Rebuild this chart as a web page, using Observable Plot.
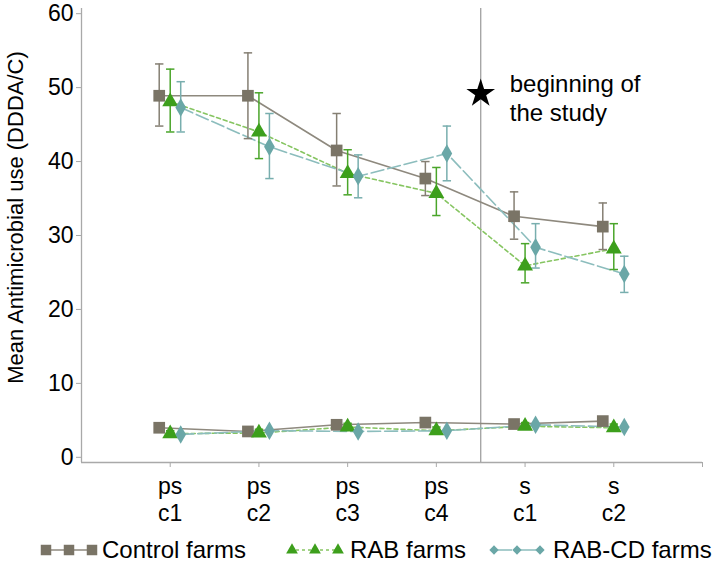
<!DOCTYPE html>
<html><head><meta charset="utf-8">
<script src="https://cdn.jsdelivr.net/npm/d3@7"></script>
<script src="https://cdn.jsdelivr.net/npm/@observablehq/plot@0.6"></script>
<style>
body{margin:0;background:#fff;font-family:"Liberation Sans",Arial,sans-serif;}
#wrap{position:relative;width:716px;height:565px;}
#legend{position:absolute;top:535px;left:0;width:716px;height:30px;font-size:24px;color:#000;}
#legend .it{position:absolute;top:0;height:30px;line-height:30px;white-space:nowrap;}
#legend svg{position:absolute;top:5px;}
</style></head><body><div id="wrap"><div id="chart"></div><div id="legend"></div></div>
<script>
const categories = ["ps\nc1","ps\nc2","ps\nc3","ps\nc4","s\nc1","s\nc2"];
const seriesNames = ["Control farms","RAB farms","RAB-CD farms"];
// upper group (mean with error bars)
const controlUpper     = [48.9, 48.9, 41.5, 37.7, 32.6, 31.2];
const controlUpperLow  = [44.8, 43.1, 36.7, 35.4, 29.5, 28.1];
const controlUpperHigh = [53.2, 54.7, 46.5, 40.0, 35.9, 34.4];
const rabUpper         = [48.1, 44.0, 38.4, 35.7, 25.9, 28.2];
const rabUpperLow      = [44.0, 40.4, 35.5, 32.7, 23.6, 25.4];
const rabUpperHigh     = [52.5, 49.3, 41.6, 39.2, 28.9, 31.6];
const cdUpper          = [47.3, 42.0, 38.0, 41.1, 28.4, 24.8];
const cdUpperLow       = [44.0, 37.7, 35.1, 37.4, 25.6, 22.3];
const cdUpperHigh      = [50.8, 46.5, 40.9, 44.8, 31.6, 27.2];
// lower group
const controlLower     = [4.0, 3.5, 4.4, 4.7, 4.5, 4.9];
const rabLower         = [3.2, 3.3, 4.1, 3.6, 4.2, 4.0];
const rabLowerLow      = [2.8, 2.9, 3.7, 3.2, 3.8, 3.6];
const rabLowerHigh     = [3.6, 3.8, 4.6, 4.1, 4.7, 4.5];
const cdLower          = [3.1, 3.6, 3.5, 3.6, 4.4, 4.1];
// annotation
const studyStart = [4.5];
const starValue = [49.2];
const annotationText = ["beginning of\nthe study"];
const yTicks = [0, 10, 20, 30, 40, 50, 60];
const yTitle = "Mean Antimicrobial use (DDDA/C)";

const FONT = '"Liberation Sans", Arial, sans-serif';
const styles = [
  {name: seriesNames[0], marker: "#7a7466", line: "#8e897e", err: "#857f73", dash: null, symbol: "square", r: 6.6, dx: -11},
  {name: seriesNames[1], marker: "#3d9f1c", line: "#86c561", err: "#4aa52a", dash: "4,3", symbol: "triangle", r: 5.9, dx: 0},
  {name: seriesNames[2], marker: "#6aa7a7", line: "#8cbdbd", err: "#78aeae", dash: "13,4", symbol: "diamond", r: 5.6, dx: 10.5}
];
const rows = (vals, lo, hi) => vals.map((v, i) => ({x: i + 1, y: v, lo: lo ? lo[i] : null, hi: hi ? hi[i] : null}));
const groups = [
  [rows(controlUpper, controlUpperLow, controlUpperHigh), rows(controlLower)],
  [rows(rabUpper, rabUpperLow, rabUpperHigh), rows(rabLower, rabLowerLow, rabLowerHigh)],
  [rows(cdUpper, cdUpperLow, cdUpperHigh), rows(cdLower)]
];
const capSymbol = {draw(ctx, size) { const r = Math.sqrt(size / Math.PI); ctx.moveTo(-r, 0); ctx.lineTo(r, 0); }};
const yDomain = [-0.7, 60.7];
const xDomain = [0, categories.length + 1];

const marks = [
  Plot.ruleX([xDomain[0]], {stroke: "#a9a9a9", strokeWidth: 1.3}),
  Plot.ruleY([yDomain[0]], {stroke: "#a9a9a9", strokeWidth: 1.3}),
  Plot.ruleX(studyStart, {stroke: "#a0a0a0", strokeWidth: 1.3}),
  Plot.axisY({ticks: yTicks, tickSize: 5, tickPadding: 3, stroke: "#a9a9a9", fontSize: 23, label: null}),
  Plot.axisX({ticks: d3.range(1, categories.length + 2), tickFormat: d => categories[d - 1] || "", tickSize: 5, tickPadding: 8, stroke: "#a9a9a9", fontSize: 23, lineHeight: 1.15, label: null}),
  Plot.text([yTitle], {frameAnchor: "left", rotate: -90, dx: -66, dy: -18, fontSize: 22, fill: "#000", textAnchor: "middle", lineAnchor: "middle"})
];
styles.forEach((s, k) => {
  for (const g of groups[k]) {
    marks.push(Plot.line(g, {x: "x", y: "y", dx: s.dx, stroke: s.line, strokeWidth: 1.6, strokeDasharray: s.dash || undefined}));
  }
});
styles.forEach((s, k) => {
  for (const g of groups[k]) {
    const e = g.filter(d => d.lo != null);
    if (!e.length) continue;
    marks.push(Plot.ruleX(e, {x: "x", y1: "lo", y2: "hi", dx: s.dx, stroke: s.err, strokeWidth: 1.5}));
    marks.push(Plot.dot(e, {x: "x", y: "lo", dx: s.dx, symbol: capSymbol, r: 4.2, stroke: s.err, strokeWidth: 1.5, fill: "none"}));
    marks.push(Plot.dot(e, {x: "x", y: "hi", dx: s.dx, symbol: capSymbol, r: 4.2, stroke: s.err, strokeWidth: 1.5, fill: "none"}));
  }
});
styles.forEach((s, k) => {
  for (const g of groups[k]) {
    marks.push(Plot.dot(g, {x: "x", y: "y", dx: s.dx, symbol: s.symbol, r: s.r, fill: s.marker, stroke: "none"}));
  }
});
marks.push(Plot.dot(studyStart.map((x, i) => ({x, y: starValue[i]})), {x: "x", y: "y", symbol: "star", r: 9, fill: "#000"}));
marks.push(Plot.text(studyStart.map((x, i) => ({x, y: starValue[i], t: annotationText[i]})), {x: "x", y: "y", text: "t", dx: 29, dy: 4, textAnchor: "start", lineAnchor: "middle", lineHeight: 1.17, fontSize: 24, fill: "#000"}));

const chart = Plot.plot({
  width: 716, height: 530,
  marginLeft: 81, marginRight: 14, marginTop: 8, marginBottom: 68,
  x: {domain: xDomain},
  y: {domain: yDomain},
  style: {fontFamily: FONT, fontSize: "23px", color: "#000", background: "#fff"},
  marks
});
document.getElementById("chart").appendChild(chart);

// legend
const legend = document.getElementById("legend");
const legendPos = [{sw: 40, tx: 102}, {sw: 286, tx: 350}, {sw: 488, tx: 553}];
function swatch(s) {
  const ns = "http://www.w3.org/2000/svg";
  const svg = document.createElementNS(ns, "svg");
  svg.setAttribute("width", 58); svg.setAttribute("height", 20);
  const line = document.createElementNS(ns, "line");
  line.setAttribute("x1", 4); line.setAttribute("x2", 54); line.setAttribute("y1", 10); line.setAttribute("y2", 10);
  line.setAttribute("stroke", s.line); line.setAttribute("stroke-width", 1.6);
  if (s.dash) line.setAttribute("stroke-dasharray", s.dash === "4,3" ? "3,3" : "20,4");
  svg.appendChild(line);
  const sym = {square: d3.symbolSquare, triangle: d3.symbolTriangle, diamond: d3.symbolDiamond2}[s.symbol];
  const size = {square: 110, triangle: 60, diamond: 55}[s.symbol];
  const path = d3.symbol(sym, size)();
  [6, 29, 52].forEach(cx => {
    const p = document.createElementNS(ns, "path");
    p.setAttribute("d", path);
    p.setAttribute("transform", `translate(${cx},10)`);
    p.setAttribute("fill", s.marker);
    svg.appendChild(p);
  });
  return svg;
}
styles.forEach((s, k) => {
  const sw = swatch(s);
  sw.style.left = legendPos[k].sw + "px";
  legend.appendChild(sw);
  const t = document.createElement("span");
  t.className = "it";
  t.style.left = legendPos[k].tx + "px";
  t.textContent = s.name;
  legend.appendChild(t);
});
</script>
</body></html>
